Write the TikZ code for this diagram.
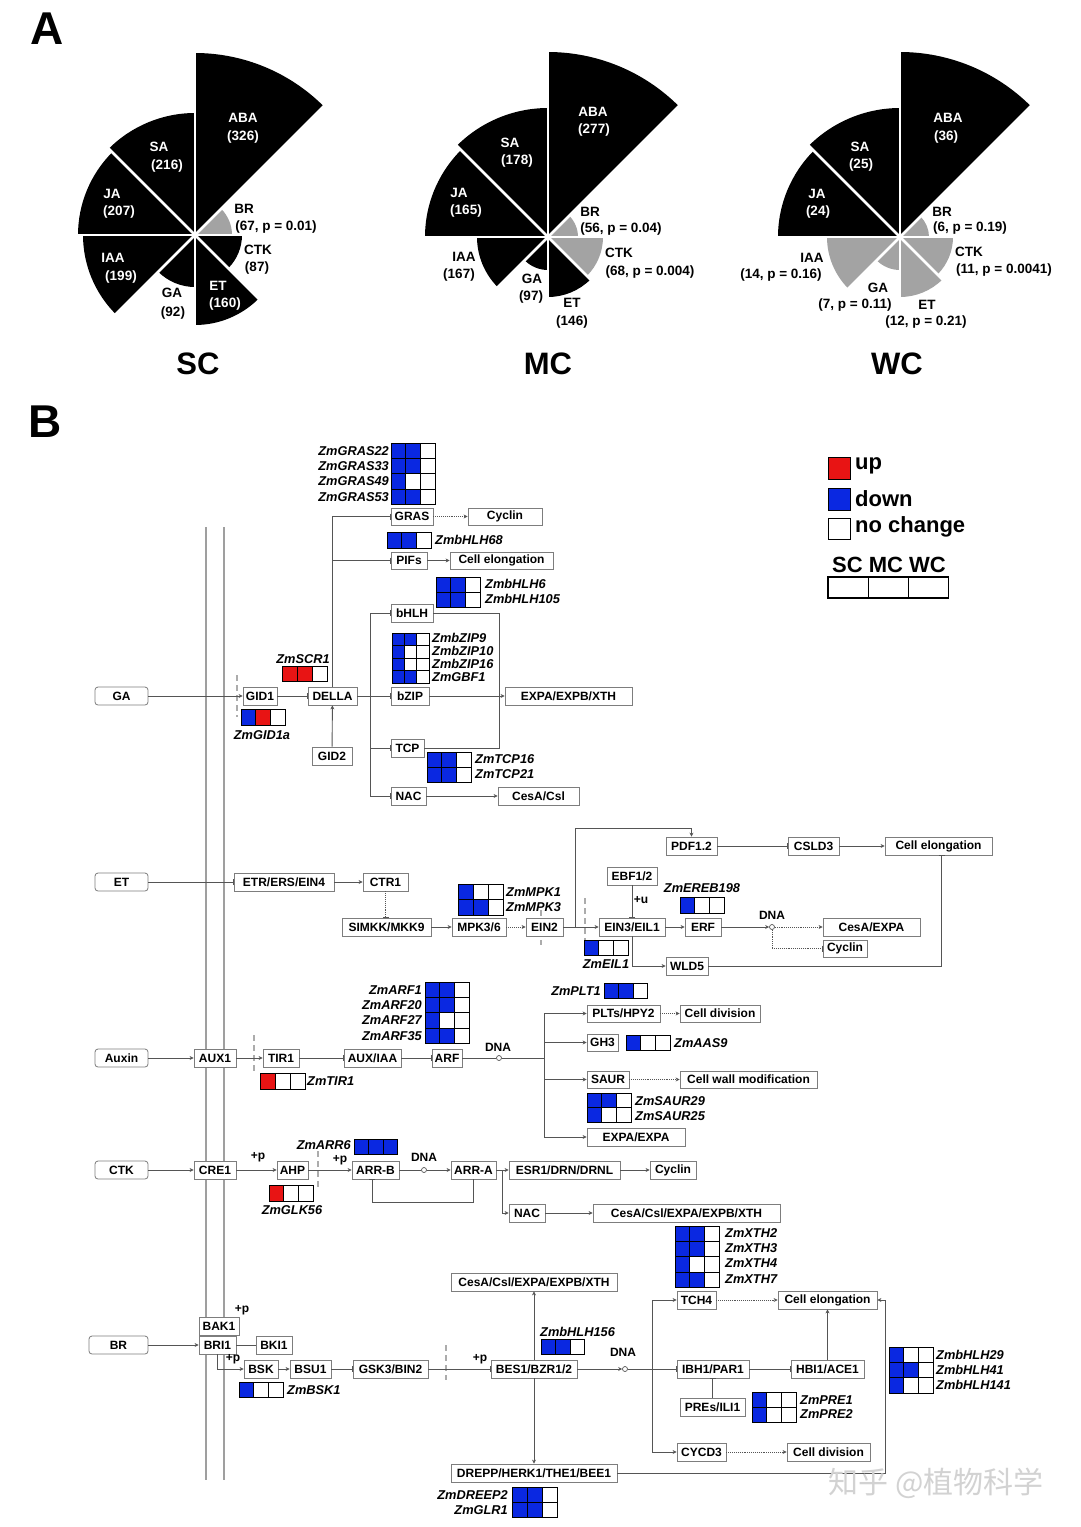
\documentclass[tikz,border=0pt]{standalone}
\usepackage{fontspec}
\setmainfont{Liberation Sans}
\newfontfamily\cjkfont{Noto Sans CJK SC}
\usetikzlibrary{arrows.meta}
\definecolor{hB}{RGB}{10,40,225}
\definecolor{hR}{RGB}{232,20,20}
\definecolor{hW}{RGB}{255,255,255}
\definecolor{lineC}{RGB}{85,85,85}
\definecolor{boxC}{RGB}{125,125,125}
\definecolor{pieG}{RGB}{163,163,163}
\newcommand\FS[1]{\fontsize{#1}{#1}\selectfont}
\tikzset{
  box/.style={draw=boxC, line width=0.8pt, fill=white, inner sep=0pt, font=\FS{12}\bfseries, text=black},
  hbox/.style={box, rounded corners=3pt},
  conn/.style={draw=lineC, line width=0.9pt},
  arr/.style={conn, -{Stealth[length=4pt,width=4pt]}},
  inh/.style={conn, -{Bar[width=6pt]}},
  dotarr/.style={arr, densely dotted},
  dotinh/.style={inh, densely dotted},
  gene/.style={font=\FS{12.8}\bfseries\itshape, inner sep=0pt},
  plab/.style={font=\FS{13.5}\bfseries, inner sep=0pt},
  sml/.style={font=\FS{12}\bfseries, inner sep=0pt},
  dna/.style={circle, draw=lineC, fill=white, line width=0.7pt, inner sep=0pt, minimum size=5pt},
  mem/.style={draw=gray!75, line width=1.6pt},
  nuc/.style={draw=gray!65, line width=1.4pt, dash pattern=on 6pt off 4pt},
}
% box: [style]{x1}{y1}{x2}{y2}{name}{text}
\newcommand\BX[7][box]{\node[#1, minimum width={(#4-#2)*1pt}, minimum height={(#5-#3)*1pt}] (#6) at ({(#2+#4)/2},{(#3+#5)/2}) {#7};}
% heatmap: {x}{y}{cw}{ch}{rows}
\newcommand\HM[5]{%
  \foreach \hrow [count=\ri] in {#5} {
    \foreach \hcol [count=\ci] in \hrow {
      \filldraw[fill=h\hcol, draw=black, line width=0.7pt] ({#1+(\ci-1)*#3},{#2+(\ri-1)*#4}) rectangle ++(#3,#4);
    }
  }}
% sector: {cx}{cy}{a1}{a2}{r}{colour}
\newcommand\SEC[6]{\fill[#6] (#1,#2) -- ++(#3:#5pt) arc[start angle=#3,end angle=#4,radius=#5pt] -- cycle;}
\newcommand\SEP[2]{\foreach \a in {0,45,...,315} {\draw[white,line width=2.8pt] (#1,#2) -- ++(\a:190pt);}}
\newcommand\PL[5]{\node[plab,text=#4] (#1) at (#2,#3) {#5};}
\begin{document}
\begin{tikzpicture}[x=1pt,y=-1pt]
\useasboundingbox (0,0) rectangle (1080,1527);
\fill[white] (0,0) rectangle (1080,1527);

% ================= PART A =================
\node[font=\FS{46}\bfseries, inner sep=0pt] (labA) at (47,29) {A};
% SC
\SEC{195}{235}{0}{45}{37}{pieG}
\SEC{195}{235}{45}{90}{182}{black}
\SEC{195}{235}{90}{135}{122}{black}
\SEC{195}{235}{135}{180}{117}{black}
\SEC{195}{235}{180}{225}{112}{black}
\SEC{195}{235}{225}{270}{52}{black}
\SEC{195}{235}{270}{315}{90}{black}
\SEC{195}{235}{315}{360}{47}{black}
\SEP{195}{235}
% MC
\SEC{548}{237}{0}{45}{30}{pieG}
\SEC{548}{237}{45}{90}{185}{black}
\SEC{548}{237}{90}{135}{129}{black}
\SEC{548}{237}{135}{180}{123}{black}
\SEC{548}{237}{180}{225}{71}{black}
\SEC{548}{237}{225}{270}{33}{black}
\SEC{548}{237}{270}{315}{60}{black}
\SEC{548}{237}{315}{360}{55}{pieG}
\SEP{548}{237}
% WC
\SEC{900}{237}{0}{45}{29}{pieG}
\SEC{900}{237}{45}{90}{185}{black}
\SEC{900}{237}{90}{135}{129}{black}
\SEC{900}{237}{135}{180}{122}{black}
\SEC{900}{237}{180}{225}{73}{pieG}
\SEC{900}{237}{225}{270}{33}{pieG}
\SEC{900}{237}{270}{315}{60}{pieG}
\SEC{900}{237}{315}{360}{53}{pieG}
\SEP{900}{237}

% SC labels
\PL{scA1}{243}{118}{white}{ABA}\PL{scA2}{243}{137}{white}{(326)}
\PL{scS1}{159}{147}{white}{SA}\PL{scS2}{167}{166}{white}{(216)}
\PL{scJ1}{112}{194}{white}{JA}\PL{scJ2}{119}{212}{white}{(207)}
\PL{scI1}{113}{258}{white}{IAA}\PL{scI2}{121}{277}{white}{(199)}
\PL{scG1}{172}{293}{black}{GA}\PL{scG2}{173}{313}{black}{(92)}
\PL{scE1}{218}{286}{white}{ET}\PL{scE2}{225}{304}{white}{(160)}
\PL{scC1}{258}{250}{black}{CTK}\PL{scC2}{257}{268}{black}{(87)}
\PL{scB1}{244}{209}{black}{BR}\PL{scB2}{276}{227}{black}{(67, p = 0.01)}
% MC labels
\PL{mcA1}{593}{112}{white}{ABA}\PL{mcA2}{594}{130}{white}{(277)}
\PL{mcS1}{510}{143}{white}{SA}\PL{mcS2}{517}{161}{white}{(178)}
\PL{mcJ1}{459}{193}{white}{JA}\PL{mcJ2}{466}{211}{white}{(165)}
\PL{mcI1}{464}{257}{black}{IAA}\PL{mcI2}{459}{275}{black}{(167)}
\PL{mcG1}{532}{279}{black}{GA}\PL{mcG2}{531}{297}{black}{(97)}
\PL{mcE1}{572}{303}{black}{ET}\PL{mcE2}{572}{322}{black}{(146)}
\PL{mcC1}{619}{253}{black}{CTK}\PL{mcC2}{650}{272}{black}{(68, p = 0.004)}
\PL{mcB1}{590}{212}{black}{BR}\PL{mcB2}{621}{229}{black}{(56, p = 0.04)}
% WC labels
\PL{wcA1}{948}{118}{white}{ABA}\PL{wcA2}{946}{137}{white}{(36)}
\PL{wcS1}{860}{147}{white}{SA}\PL{wcS2}{861}{165}{white}{(25)}
\PL{wcJ1}{817}{194}{white}{JA}\PL{wcJ2}{818}{212}{white}{(24)}
\PL{wcI1}{812}{258}{black}{IAA}\PL{wcI2}{781}{275}{black}{(14, p = 0.16)}
\PL{wcG1}{878}{288}{black}{GA}\PL{wcG2}{855}{305}{black}{(7, p = 0.11)}
\PL{wcE1}{927}{305}{black}{ET}\PL{wcE2}{926}{322}{black}{(12, p = 0.21)}
\PL{wcC1}{969}{252}{black}{CTK}\PL{wcC2}{1004}{270}{black}{(11, p = 0.0041)}
\PL{wcB1}{942}{212}{black}{BR}\PL{wcB2}{970}{228}{black}{(6, p = 0.19)}

\node[font=\FS{31}\bfseries, inner sep=0pt] (tSC) at (198,364) {SC};
\node[font=\FS{31}\bfseries, inner sep=0pt] (tMC) at (548,364) {MC};
\node[font=\FS{31}\bfseries, inner sep=0pt] (tWC) at (897,364) {WC};

% ================= PART B =================
\node[font=\FS{46}\bfseries, inner sep=0pt] (labB) at (45,422) {B};

% membranes
\draw[mem] (206,527) -- (206,1480);
\draw[mem] (224,527) -- (224,1480);
% nuclear (dashed) marks
\draw[nuc] (237,675) -- (237,717);
\draw[nuc] (585,898) -- (585,946);
\draw[nuc] (541,910) -- (541,945);
\draw[nuc] (254,1035) -- (254,1072);
\draw[nuc] (318,1151) -- (318,1188);
\draw[nuc] (446,1345) -- (446,1380);

% legend
\filldraw[fill=hR, draw=black, line width=1pt] (828,457) rectangle (850,479);
\filldraw[fill=hB, draw=black, line width=1pt] (828,488) rectangle (850,510);
\filldraw[fill=white, draw=black, line width=1pt] (828,518) rectangle (850,539);
\node[font=\FS{22}\bfseries, inner sep=0pt, anchor=west] (lgUp) at (855,466) {up};
\node[font=\FS{22}\bfseries, inner sep=0pt, anchor=west] (lgDown) at (855,499) {down};
\node[font=\FS{22}\bfseries, inner sep=0pt, anchor=west] (lgNo) at (855,527) {no change};
\node[font=\FS{22}\bfseries, inner sep=0pt] (lgHead) at (889,565) {SC MC WC};
\foreach \i in {0,1,2} {\draw[black, line width=1.1pt] ({828+\i*40.3},577) rectangle ++(40.3,21);}

% ---------- GA ----------
\BX[hbox]{95}{687}{148}{705}{GA}{GA}
\BX{243}{687}{277}{705}{GID1}{GID1}
\BX{308}{687}{357}{705}{DELLA}{DELLA}
\BX{312}{747}{352}{765}{GID2}{GID2}
\BX{391}{508}{433}{525}{GRAS}{GRAS}
\BX{468}{508}{542}{525}{CycA}{Cyclin}
\BX{391}{552}{427}{569}{PIFs}{PIFs}
\BX{450}{552}{553}{569}{CElA}{Cell elongation}
\BX{391}{604}{433}{622}{bHLH}{bHLH}
\BX{391}{687}{429}{705}{bZIP}{bZIP}
\BX{505}{687}{632}{705}{EXPA}{EXPA/EXPB/XTH}
\BX{391}{739}{424}{757}{TCP}{TCP}
\BX{391}{787}{426}{805}{NACa}{NAC}
\BX{498}{787}{579}{805}{CesAa}{CesA/Csl}

\draw[arr] (GA) -- (GID1);
\draw[inh] (GID1) -- (DELLA);
\draw[arr] (GID2) -- (DELLA);
\draw[inh] (DELLA.north) |- (GRAS.west);
\draw[inh] (DELLA.north) |- (PIFs.west);
\draw[inh] (DELLA) -- (bZIP);
\coordinate (gaB) at (370,696);
\draw[inh] (gaB) |- (bHLH.west);
\draw[inh] (gaB) |- (TCP.west);
\draw[inh] (gaB) |- (NACa.west);
\draw[dotarr] (GRAS) -- (CycA);
\draw[arr] (PIFs) -- (CElA);
\draw[arr] (bZIP) -- (EXPA);
\coordinate (gaE1) at (499,613);
\coordinate (gaE2) at (499,748);
\draw[conn] (bHLH.east) -- (gaE1) -- (gaE2) -- (TCP.east);
\draw[arr] (NACa) -- (CesAa);

\HM{391}{443}{14.7}{15.3}{{B,B,W},{B,B,W},{B,W,W},{B,B,W}}
\node[gene,anchor=east] (gGRAS22) at (389,451) {ZmGRAS22};
\node[gene,anchor=east] (gGRAS33) at (389,466) {ZmGRAS33};
\node[gene,anchor=east] (gGRAS49) at (389,481) {ZmGRAS49};
\node[gene,anchor=east] (gGRAS53) at (389,497) {ZmGRAS53};
\HM{387}{532}{14.7}{16}{{B,B,W}}
\node[gene,anchor=west] (gbHLH68) at (435,540) {ZmbHLH68};
\HM{436}{577}{14.7}{15}{{B,B,W},{B,B,W}}
\node[gene,anchor=west] (gbHLH6) at (485,584) {ZmbHLH6};
\node[gene,anchor=west] (gbHLH105) at (485,599) {ZmbHLH105};
\HM{392}{633}{12.4}{12.6}{{B,B,W},{B,W,W},{B,W,W},{B,B,W}}
\node[gene,anchor=west] (gbZIP9) at (432,638) {ZmbZIP9};
\node[gene,anchor=west] (gbZIP10) at (432,651) {ZmbZIP10};
\node[gene,anchor=west] (gbZIP16) at (432,664) {ZmbZIP16};
\node[gene,anchor=west] (gGBF1) at (432,677) {ZmGBF1};
\HM{427}{752}{14.7}{15}{{B,B,W},{B,B,W}}
\node[gene,anchor=west] (gTCP16) at (475,759) {ZmTCP16};
\node[gene,anchor=west] (gTCP21) at (475,774) {ZmTCP21};
\HM{282}{666}{15}{15}{{R,R,W}}
\node[gene] (gSCR1) at (303,659) {ZmSCR1};
\HM{241}{709}{14.7}{16}{{B,R,W}}
\node[gene] (gGID1a) at (262,735) {ZmGID1a};

% ---------- ET ----------
\BX[hbox]{95}{873}{148}{891}{ET}{ET}
\BX{234}{873}{334}{891}{ETR}{ETR/ERS/EIN4}
\BX{363}{873}{408}{891}{CTR}{CTR1}
\BX{342}{918}{431}{936}{SIMKK}{SIMKK/MKK9}
\BX{452}{918}{506}{936}{MPK}{MPK3/6}
\BX{526}{918}{563}{936}{EIN2}{EIN2}
\BX{599}{918}{665}{936}{EIN3}{EIN3/EIL1}
\BX{607}{867}{657}{885}{EBF}{EBF1/2}
\BX{685}{918}{721}{936}{ERF}{ERF}
\BX{823}{918}{920}{936}{CesAE}{CesA/EXPA}
\BX{823}{940}{867}{957}{CycE}{Cyclin}
\BX{666}{957}{708}{975}{WLD5}{WLD5}
\BX{666}{837}{717}{855}{PDF}{PDF1.2}
\BX{788}{837}{839}{855}{CSLD}{CSLD3}
\BX{885}{837}{992}{855}{CElE}{Cell elongation}

\draw[inh] (ET) -- (ETR);
\draw[arr] (ETR) -- (CTR);
\draw[dotinh] (CTR.south) -- (CTR.south |- SIMKK.north);
\draw[arr] (SIMKK) -- (MPK);
\draw[dotarr] (MPK) -- (EIN2);
\draw[arr] (EIN2) -- (EIN3);
\coordinate (etU1) at (575,927);
\coordinate (etU2) at (575,828);
\draw[arr] (etU1) -- (etU2) -| (PDF.north);
\draw[inh] (EBF) -- (EIN3);
\node[sml] (plusU) at (641,900) {+u};
\draw[arr] (EIN3) -- (ERF);
\node[dna] (dnaE) at (772,927) {};
\node[sml] (dnaEl) at (772,915) {DNA};
\draw[arr] (ERF) -- (dnaE);
\draw[dotarr] (dnaE) -- (CesAE);
\draw[dotinh] (dnaE) |- (CycE.west);
\draw[arr] (EIN3.south) |- (WLD5.west);
\draw[inh] (WLD5.east) -| ([xshift=3pt]CElE.south);
\draw[inh] (PDF) -- (CSLD);
\draw[arr] (CSLD) -- (CElE);

\HM{458}{884}{15}{15.5}{{B,W,W},{B,B,W}}
\node[gene,anchor=west] (gMPK1) at (506,892) {ZmMPK1};
\node[gene,anchor=west] (gMPK3) at (506,907) {ZmMPK3};
\HM{680}{897}{14.7}{16}{{B,W,W}}
\node[gene] (gEREB) at (702,888) {ZmEREB198};
\HM{584}{940}{14.7}{15}{{B,W,W}}
\node[gene] (gEIL1) at (606,964) {ZmEIL1};

% ---------- Auxin ----------
\BX[hbox]{95}{1049}{148}{1067}{Auxin}{Auxin}
\BX{194}{1049}{236}{1067}{AUX}{AUX1}
\BX{263}{1049}{299}{1067}{TIR}{TIR1}
\BX{344}{1049}{401}{1067}{AUXIAA}{AUX/IAA}
\BX{432}{1049}{462}{1067}{ARF}{ARF}
\BX{587}{1005}{660}{1022}{PLT}{PLTs/HPY2}
\BX{680}{1005}{760}{1022}{CDA}{Cell division}
\BX{587}{1034}{618}{1051}{GH3}{GH3}
\BX{587}{1071}{629}{1088}{SAUR}{SAUR}
\BX{680}{1071}{817}{1088}{CWM}{Cell wall modification}
\BX{587}{1128}{685}{1146}{EXPAA}{EXPA/EXPA}

\draw[arr] (Auxin) -- (AUX);
\draw[arr] (AUX) -- (TIR);
\draw[inh] (TIR) -- (AUXIAA);
\draw[inh] (AUXIAA) -- (ARF);
\node[dna] (dnaA) at (499,1058) {};
\node[sml] (dnaAl) at (498,1047) {DNA};
\coordinate (auB) at (544,1058);
\draw[conn] (ARF) -- (dnaA) -- (auB);
\draw[arr] (auB) |- (PLT.west);
\draw[arr] (auB) |- (GH3.west);
\draw[arr] (auB) |- (SAUR.west);
\draw[arr] (auB) |- (EXPAA.west);
\draw[dotarr] (PLT) -- (CDA);
\draw[dotarr] (SAUR) -- (CWM);

\HM{425}{982}{14.7}{15.3}{{B,B,W},{B,B,W},{B,W,W},{B,B,W}}
\node[gene,anchor=east] (gARF1) at (422,990) {ZmARF1};
\node[gene,anchor=east] (gARF20) at (422,1005) {ZmARF20};
\node[gene,anchor=east] (gARF27) at (422,1020) {ZmARF27};
\node[gene,anchor=east] (gARF35) at (422,1036) {ZmARF35};
\HM{260}{1073}{15}{16}{{R,W,W}}
\node[gene,anchor=west] (gTIR1) at (307,1081) {ZmTIR1};
\HM{604}{983}{14.5}{15}{{B,B,W}}
\node[gene,anchor=east] (gPLT1) at (601,991) {ZmPLT1};
\HM{626}{1035}{14.7}{15}{{B,W,W}}
\node[gene,anchor=west] (gAAS9) at (674,1043) {ZmAAS9};
\HM{587}{1093}{14.7}{14.7}{{B,B,W},{B,W,W}}
\node[gene,anchor=west] (gSAUR29) at (635,1101) {ZmSAUR29};
\node[gene,anchor=west] (gSAUR25) at (635,1116) {ZmSAUR25};

% ---------- CTK ----------
\BX[hbox]{95}{1161}{148}{1179}{CTK}{CTK}
\BX{194}{1161}{236}{1179}{CRE}{CRE1}
\BX{277}{1161}{308}{1179}{AHP}{AHP}
\BX{352}{1161}{399}{1179}{ARRB}{ARR-B}
\BX{451}{1161}{496}{1179}{ARRA}{ARR-A}
\BX{509}{1161}{620}{1179}{ESR}{ESR1/DRN/DRNL}
\BX{650}{1161}{696}{1179}{CycC}{Cyclin}
\BX{509}{1204}{545}{1222}{NACc}{NAC}
\BX{593}{1204}{780}{1222}{CesAc}{CesA/Csl/EXPA/EXPB/XTH}

\draw[arr] (CTK) -- (CRE);
\draw[arr] (CRE) -- (AHP);
\node[sml] (pC1) at (258,1157) {+p};
\draw[arr] (AHP) -- (ARRB);
\node[sml] (pC2) at (340,1160) {+p};
\node[dna] (dnaC) at (424,1170) {};
\node[sml] (dnaCl) at (424,1157) {DNA};
\draw[conn] (ARRB) -- (dnaC);
\draw[arr] (dnaC) -- (ARRA);
\coordinate (ctF) at (372,1202);
\draw[inh] (ARRA.south) |- (ctF) -- (ctF |- ARRB.south);
\draw[arr] (ARRA) -- (ESR);
\coordinate (ctB) at (502,1170);
\draw[arr] (ctB) |- (NACc.west);
\draw[arr] (ESR) -- (CycC);
\draw[arr] (NACc) -- (CesAc);

\HM{354}{1139}{14.5}{15}{{B,B,B}}
\node[gene,anchor=east] (gARR6) at (351,1145) {ZmARR6};
\HM{269}{1185}{14.7}{16}{{R,W,W}}
\node[gene] (gGLK56) at (292,1210) {ZmGLK56};

% ---------- BR ----------
\BX[hbox]{89}{1336}{148}{1354}{BR}{BR}
\BX{199}{1317}{239}{1335}{BAK}{BAK1}
\BX{199}{1336}{236}{1354}{BRI}{BRI1}
\BX{256}{1336}{292}{1354}{BKI}{BKI1}
\BX{244}{1360}{278}{1378}{BSK}{BSK}
\BX{290}{1360}{331}{1378}{BSU}{BSU1}
\BX{353}{1360}{428}{1378}{GSK}{GSK3/BIN2}
\BX{491}{1360}{577}{1378}{BES}{BES1/BZR1/2}
\BX{451}{1273}{617}{1291}{CesAb}{CesA/Csl/EXPA/EXPB/XTH}
\BX{451}{1464}{617}{1482}{DREPP}{DREPP/HERK1/THE1/BEE1}
\BX{677}{1291}{716}{1309}{TCH}{TCH4}
\BX{778}{1291}{877}{1309}{CElB}{Cell elongation}
\BX{677}{1360}{749}{1378}{IBH}{IBH1/PAR1}
\BX{791}{1360}{864}{1378}{HBI}{HBI1/ACE1}
\BX{680}{1398}{745}{1416}{PREs}{PREs/ILI1}
\BX{677}{1443}{726}{1461}{CYCD}{CYCD3}
\BX{787}{1443}{870}{1461}{CDB}{Cell division}

\draw[arr] (BR) -- (BRI);
\draw[conn] (BRI) -- (BKI);
\node[sml] (pB1) at (242,1310) {+p};
\draw[arr] (BRI.south) |- (BSK.west);
\node[sml] (pB2) at (233,1359) {+p};
\draw[arr] (BSK) -- (BSU);
\draw[inh] (BSU) -- (GSK);
\draw[inh] (GSK) -- (BES);
\node[sml] (pB3) at (480,1359) {+p};
\draw[arr] (BES) -- (CesAb);
\draw[arr] (BES) -- (DREPP);
\node[dna] (dnaB) at (625,1369) {};
\node[sml] (dnaBl) at (623,1352) {DNA};
\draw[arr] (BES) -- (dnaB);
\draw[inh] (dnaB) -- (IBH);
\coordinate (brB) at (652,1369);
\draw[arr] (brB) |- (TCH.west);
\draw[arr] (brB) |- (CYCD.west);
\draw[inh] (IBH) -- (HBI);
\draw[inh] (PREs.north) -- (PREs.north |- IBH.south);
\draw[arr] (HBI) -- (CElB);
\draw[dotarr] (TCH) -- (CElB);
\draw[dotarr] (CYCD) -- (CDB);
\coordinate (brR) at (885,1473);
\draw[arr] (DREPP.east) -- (brR) |- (CElB.east);

\HM{675}{1226}{14.7}{15.3}{{B,B,W},{B,B,W},{B,W,W},{B,B,W}}
\node[gene,anchor=west] (gXTH2) at (725,1233) {ZmXTH2};
\node[gene,anchor=west] (gXTH3) at (725,1248) {ZmXTH3};
\node[gene,anchor=west] (gXTH4) at (725,1263) {ZmXTH4};
\node[gene,anchor=west] (gXTH7) at (725,1279) {ZmXTH7};
\HM{541}{1339}{14.5}{15}{{B,B,W}}
\node[gene,anchor=west] (gbHLH156) at (540,1332) {ZmbHLH156};
\HM{239}{1382}{14.7}{15}{{B,W,W}}
\node[gene,anchor=west] (gBSK1) at (287,1390) {ZmBSK1};
\HM{512}{1487}{15}{15}{{B,B,W},{B,B,W}}
\node[gene,anchor=east] (gDREEP2) at (508,1495) {ZmDREEP2};
\node[gene,anchor=east] (gGLR1) at (508,1510) {ZmGLR1};
\HM{752}{1392}{14.7}{15}{{B,W,W},{B,W,W}}
\node[gene,anchor=west] (gPRE1) at (800,1400) {ZmPRE1};
\node[gene,anchor=west] (gPRE2) at (800,1414) {ZmPRE2};
\HM{889}{1347}{14.7}{15.3}{{B,W,W},{B,B,W},{B,W,W}}
\node[gene,anchor=west] (gbHLH29) at (936,1355) {ZmbHLH29};
\node[gene,anchor=west] (gbHLH41) at (936,1370) {ZmbHLH41};
\node[gene,anchor=west] (gbHLH141) at (936,1385) {ZmbHLH141};

% watermark
\node[font=\cjkfont\FS{30}, text=gray!35, inner sep=0pt] (wmark) at (936,1483) {知乎 @植物科学};
\end{tikzpicture}
\end{document}
